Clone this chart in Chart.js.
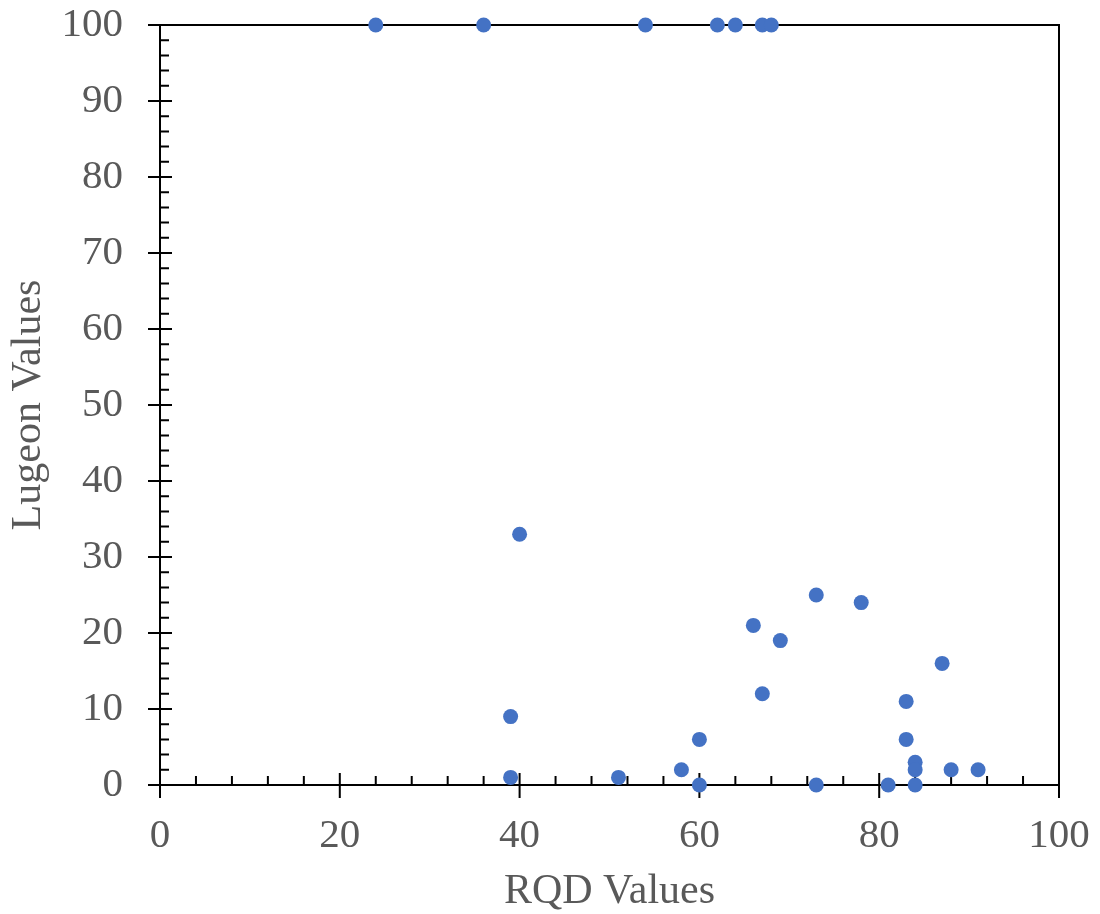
<!DOCTYPE html>
<html>
<head>
<meta charset="utf-8">
<title>RQD vs Lugeon</title>
<script src="https://cdn.jsdelivr.net/npm/chart.js@4.4.1/dist/chart.umd.min.js"></script>
<style>
  html, body { margin: 0; padding: 0; background: #fff; }
  #wrap { width: 1100px; height: 914px; position: relative; }
</style>
</head>
<body>
<div id="wrap"><canvas id="rqdChart" width="1100" height="914"></canvas></div>
<script>
// RQD (x) and Lugeon (y) measurements, one pair per test section
const rqdValues = [24, 36, 54, 62, 64, 67, 68, 40, 39, 39, 51, 58, 60, 60, 66,
  67, 69, 73, 73, 78, 81, 83, 83, 84, 84, 84, 87, 88, 91];
const lugeonValues = [100, 100, 100, 100, 100, 100, 100, 33, 9, 1, 1, 2, 6, 0, 21,
  12, 19, 25, 0, 24, 0, 11, 6, 3, 2, 0, 16, 2, 2];

const xTicks = [0, 20, 40, 60, 80, 100];
const yTicks = [0, 10, 20, 30, 40, 50, 60, 70, 80, 90, 100];
const xMinorStep = 4;
const yMinorStep = 2;

const textGray = "#595959";
const fontFamily = "'Liberation Serif', 'Times New Roman', serif";

// Plot frame with Excel-style tick marks (major cross, minor inside)
const frameTicks = {
  id: "frameTicks",
  beforeDatasetsDraw(chart) {
    const { ctx, chartArea: a, scales } = chart;
    const x = scales.x, y = scales.y;
    ctx.save();
    ctx.strokeStyle = "#000";
    ctx.lineWidth = 2;
    ctx.beginPath();
    ctx.rect(a.left, a.top, a.right - a.left, a.bottom - a.top);
    ctx.stroke();

    ctx.beginPath();
    for (let v = x.min; v <= x.max; v += xMinorStep) {
      const px = x.getPixelForValue(v);
      if (xTicks.includes(v)) {
        ctx.moveTo(px, a.bottom - 12);
        ctx.lineTo(px, a.bottom + 13);
      } else {
        ctx.moveTo(px, a.bottom - 9);
        ctx.lineTo(px, a.bottom);
      }
    }
    for (let v = y.min; v <= y.max; v += yMinorStep) {
      const py = y.getPixelForValue(v);
      if (yTicks.includes(v)) {
        ctx.moveTo(a.left - 12, py);
        ctx.lineTo(a.left + 12, py);
      } else {
        ctx.moveTo(a.left, py);
        ctx.lineTo(a.left + 9, py);
      }
    }
    ctx.stroke();
    ctx.restore();
  }
};

const ctx = document.getElementById("rqdChart").getContext("2d");

const rqdChart = new Chart(ctx, {
  type: "scatter",
  data: {
    datasets: [
      {
        label: "Lugeon",
        data: rqdValues.map((r, i) => ({ x: r, y: lugeonValues[i] })),
        backgroundColor: "#4472C4",
        borderColor: "#4472C4",
        borderWidth: 0,
        pointRadius: 7.5,
        pointHoverRadius: 7.5,
        clip: false,
      },
    ],
  },
  options: {
    responsive: false,
    animation: false,
    events: [],
    layout: {
      padding: { top: 25, right: 41, left: 0, bottom: 0 },
    },
    plugins: {
      legend: { display: false },
      tooltip: { enabled: false },
    },
    scales: {
      x: {
        type: "linear",
        min: 0,
        max: 100,
        afterBuildTicks(scale) {
          scale.ticks = xTicks.map((v) => ({ value: v }));
        },
        afterFit(scale) {
          scale.height = 129;
          scale.paddingLeft = 0;
          scale.paddingRight = 0;
        },
        grid: { display: false, drawTicks: false },
        border: { display: false },
        ticks: {
          color: textGray,
          padding: 27,
          maxRotation: 0,
          font: { family: fontFamily, size: 41 },
        },
        title: {
          display: true,
          text: "RQD Values",
          color: textGray,
          padding: { top: 0, bottom: -3 },
          font: { family: fontFamily, size: 42 },
        },
      },
      y: {
        type: "linear",
        min: 0,
        max: 100,
        afterBuildTicks(scale) {
          scale.ticks = yTicks.map((v) => ({ value: v }));
        },
        afterFit(scale) {
          scale.width = 160;
          scale.paddingTop = 0;
          scale.paddingBottom = 0;
        },
        grid: { display: false, drawTicks: false },
        border: { display: false },
        ticks: {
          color: textGray,
          padding: 37,
          font: { family: fontFamily, size: 41 },
        },
        title: {
          display: true,
          text: "Lugeon Values",
          color: textGray,
          padding: 4,
          font: { family: fontFamily, size: 42 },
        },
      },
    },
  },
  plugins: [frameTicks],
});
</script>
</body>
</html>
